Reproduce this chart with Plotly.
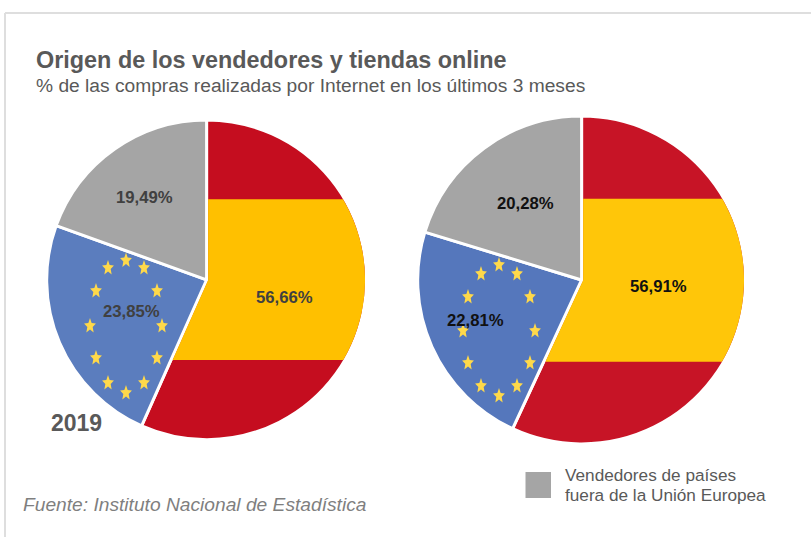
import numpy as np
import plotly.graph_objects as go

W, H = 811, 537
categories = ["Vendedores de España", "Vendedores de la Unión Europea", "Vendedores de países fuera de la Unión Europea"]
values_2019 = [56.66, 23.85, 19.49]
values_2020 = [56.91, 22.81, 20.28]

TEXT = "#595959"
FONT = "Liberation Sans"
GAP = 1.5


def px(x):
    return x / W


def py(y):
    return 1 - y / H


def fmt(v):
    return f"{v:.2f}".replace(".", ",") + "%"


def pie(values, g, colors):
    R = g["r"] + GAP
    return go.Pie(
        values=values, labels=categories, sort=False, direction="clockwise", rotation=0,
        textinfo="none", hoverinfo="label+percent", showlegend=False,
        marker=dict(colors=colors, line=dict(color="white", width=3)),
        domain=dict(x=[px(g["cx"] - R), px(g["cx"] + R)], y=[py(g["cy"] + R), py(g["cy"] - R)]),
    )


def star_path(x, y, w=12.5, h=16.0):
    pts = []
    for i in range(10):
        a = np.pi / 5 * i
        rad = 1.0 if i % 2 == 0 else 0.45
        pts.append((x + w / 2 * rad * np.sin(a), y - h / 2 * rad * np.cos(a)))
    return "M " + " L ".join(f"{px(a):.5f} {py(b):.5f}" for a, b in pts) + " Z"


L = dict(cx=206.6, cy=279.8, r=158.4)
Rr = dict(cx=581.6, cy=280.0, r=162.4)

stars_l = [(126, 260.5), (108, 268), (144, 268), (96, 291), (157, 291), (90, 326), (162, 326),
           (96, 358), (157, 358), (108, 383), (144, 383), (126, 393)]
stars_r = [(499, 265), (481, 274), (517, 274), (468, 297), (530, 297), (463, 331), (535, 331),
           (468, 363), (530, 363), (481, 386), (517, 386), (499, 396)]

fig = go.Figure()
fig.add_trace(pie(values_2019, L, ["#C50D1F", "#5B7DBE", "#A5A5A5"]))
fig.add_trace(pie(values_2020, Rr, ["#C71426", "#5577BC", "#A5A5A5"]))


def band_shape(values, g, y1, y2, color):
    theta = 2 * np.pi * values[0] / sum(values)
    cx, cy, r = g["cx"], g["cy"], g["r"]
    a1, a2 = np.arcsin((cy - y1) / r), np.arcsin((cy - y2) / r)
    pts = [(cx + r * np.cos(a), cy - r * np.sin(a)) for a in np.linspace(a1, a2, 80)]
    # slice border: x = cx + (y - cy) * k + off, with y growing downward
    k = np.sin(theta) / (-np.cos(theta))
    off = GAP / abs(np.cos(theta))
    pts.append((cx + (y2 - cy) * k + off, y2))
    pts.append((cx + GAP, cy + (GAP - off) / k))
    pts.append((cx + GAP, y1))
    path = "M " + " L ".join(f"{px(a):.5f} {py(b):.5f}" for a, b in pts) + " Z"
    return dict(type="path", xref="paper", yref="paper", path=path, fillcolor=color,
                line=dict(width=0), layer="above")


shapes = [
    band_shape(values_2019, L, 199.3, 360.0, "#FFC000"),
    band_shape(values_2020, Rr, 198.7, 361.7, "#FFC609"),
    dict(type="line", xref="paper", yref="paper", x0=px(5), x1=px(811), y0=py(13), y1=py(13),
         line=dict(color="#DEDEDE", width=2)),
    dict(type="line", xref="paper", yref="paper", x0=px(5), x1=px(5), y0=py(13), y1=py(537),
         line=dict(color="#DEDEDE", width=2)),
    dict(type="rect", xref="paper", yref="paper", x0=px(525.5), x1=px(551), y0=py(498), y1=py(472),
         fillcolor="#A5A5A5", line=dict(width=0)),
]
for x, y in stars_l + stars_r:
    shapes.append(dict(type="path", xref="paper", yref="paper", path=star_path(x, y),
                       fillcolor="#FFD94A", line=dict(width=0), layer="above"))


def note(text, x, y, size, color=TEXT, bold=False, italic=False, anchor="left"):
    return dict(text=f"<b>{text}</b>" if bold else (f"<i>{text}</i>" if italic else text),
                xref="paper", yref="paper", x=px(x), y=py(y), xanchor=anchor, yanchor="middle",
                showarrow=False, align="left", font=dict(family=FONT, size=size, color=color))


annotations = [
    note("Origen de los vendedores y tiendas online", 34, 60, 23.4, bold=True),
    note("% de las compras realizadas por Internet en los últimos 3 meses", 34, 86, 19.2),
    note("2019", 49, 423, 23, bold=True),
    note("Fuente: Instituto Nacional de Estadística", 21, 504, 19.2, color="#7F7F7F", italic=True),
    note("Vendedores de países", 563, 475, 17.2),
    note("fuera de la Unión Europea", 563, 495, 17.2),
    note(fmt(values_2019[0]), 284, 297, 16.7, color="#404040", bold=True, anchor="center"),
    note(fmt(values_2019[1]), 131.5, 311, 16.7, color="#404040", bold=True, anchor="center"),
    note(fmt(values_2019[2]), 144.5, 197, 16.7, color="#404040", bold=True, anchor="center"),
    note(fmt(values_2020[0]), 658.5, 286, 16.7, color="#111111", bold=True, anchor="center"),
    note(fmt(values_2020[1]), 475, 320, 16.7, color="#111111", bold=True, anchor="center"),
    note(fmt(values_2020[2]), 525.5, 203, 16.7, color="#111111", bold=True, anchor="center"),
]

fig.update_layout(width=W, height=H, margin=dict(l=0, r=0, t=0, b=0), paper_bgcolor="white",
                  shapes=shapes, annotations=annotations, showlegend=False)
fig.write_html("out.html", config=dict(displayModeBar=False),
               post_script="document.body.style.margin='0';document.body.style.overflow='hidden';")
